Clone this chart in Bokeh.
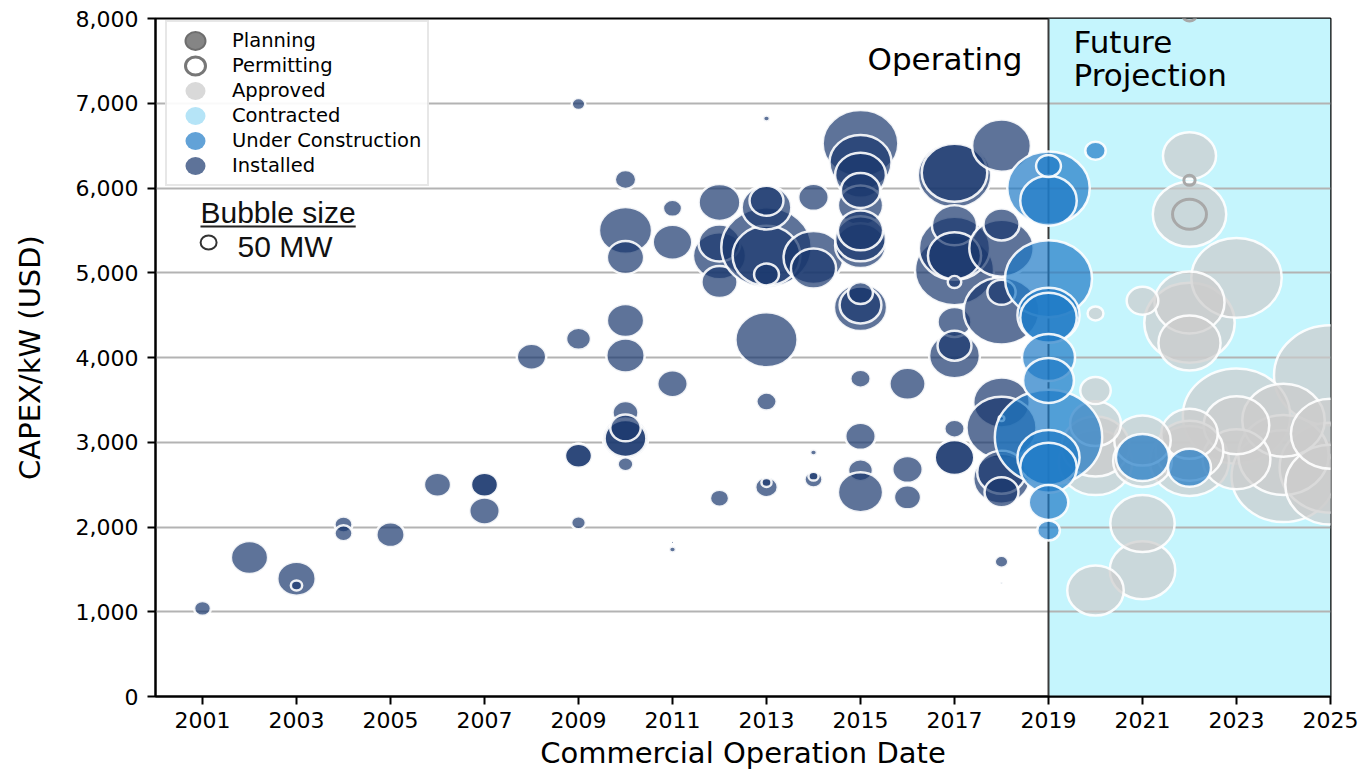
import math
from bokeh.plotting import figure
from bokeh.models import (ColumnDataSource, Legend, LegendItem, Label, Span,
                          FixedTicker, NumeralTickFormatter, Range1d, BoxAnnotation)
from bokeh.embed import file_html
from bokeh.resources import INLINE

# ---------------- data ----------------
status_labels = ["Planning", "Permitting", "Approved", "Contracted",
                 "Under Construction", "Installed"]
x_ticks = list(range(2001, 2026, 2))
y_ticks = list(range(0, 8001, 1000))
future_start = 2019
future_end = 2025
ref_mw = 50

installed_year = [2001, 2002, 2003, 2003, 2004, 2004, 2005, 2006, 2007, 2007, 2007, 2008,
                  2009, 2009, 2009, 2009, 2009,
                  2010, 2010, 2010, 2010, 2010, 2010, 2010, 2010, 2010, 2010,
                  2011, 2011, 2011, 2011, 2011,
                  2012, 2012, 2012, 2012, 2012,
                  2013, 2013, 2013, 2013, 2013, 2013, 2013, 2013, 2013, 2013,
                  2014, 2014, 2014, 2014, 2014, 2014,
                  2015, 2015, 2015, 2015, 2015, 2015, 2015, 2015, 2015, 2015, 2015,
                  2015, 2015, 2015, 2015,
                  2016, 2016, 2016,
                  2017, 2017, 2017, 2017, 2017, 2017, 2017, 2017, 2017, 2017, 2017,
                  2017, 2017,
                  2018, 2018, 2018, 2018, 2018, 2018, 2018, 2018, 2018, 2018, 2018,
                  2018, 2018]
installed_capex = [1040, 1640, 1390, 1310, 2030, 1925, 1910, 2500, 2190, 2500, 2500, 4010,
                   6990, 4220, 2840, 2840, 2050,
                   6100, 5500, 5180, 4437, 4024, 3350, 3045, 3045, 3170, 2740,
                   5760, 5360, 3690, 1735, 1820,
                   5830, 5200, 5350, 4890, 2340,
                   5300, 5200, 5770, 5850, 6820, 4980, 4210, 3480, 2470, 2525,
                   5890, 5180, 5050, 2880, 2560, 2600,
                   6525, 6300, 6150, 5795, 5970, 5320, 5400, 5500, 4590, 4620, 4760,
                   3750, 3070, 2670, 2410,
                   3690, 2680, 2350,
                   5030, 6150, 6180, 5290, 5560, 5200, 4890, 4020, 4420, 4140, 3160,
                   2820, 2820,
                   4550, 6500, 5290, 5570, 4770, 3470, 3170, 3280, 2570, 2645, 2410,
                   1590, 1340]
installed_mw = [56, 272, 289, 25, 64, 64, 156, 144, 182, 144, 144, 169,
                36, 121, 144, 144, 42,
                90, 552, 272, 272, 289, 132, 400, 342, 182, 49,
                72, 306, 182, 9, 0.25,
                342, 552, 342, 256, 72,
                1600, 900, 484, 225, 9, 121, 756, 81, 100, 20,
                182, 702, 400, 9, 64, 20,
                1122, 756, 506, 400, 306, 506, 506, 400, 552, 342, 121,
                81, 182, 121, 400,
                256, 182, 144,
                1225, 1056, 841, 992, 400, 552, 36, 506, 225, 225, 81,
                306, 306,
                1122, 676, 812, 256, 156, 625, 961, 6, 625, 462, 225,
                36, 1]

construction_year = [2019, 2019, 2019, 2019, 2019, 2019, 2019, 2019, 2019, 2019, 2019,
                     2019, 2019, 2020, 2021, 2022]
construction_capex = [3060, 6000, 4930, 2820, 4500, 2700, 5850, 4470, 4000, 3730, 2290,
                      6260, 1960, 6440, 2820, 2700]
construction_mw = [2256, 1332, 1482, 756, 756, 625, 625, 625, 552, 506, 306,
                   121, 100, 81, 552, 361]

approved_year = [2025, 2023, 2024, 2025, 2024, 2022, 2023, 2025, 2024, 2025, 2022,
                 2020, 2022, 2022, 2023, 2023, 2020, 2022, 2022, 2021, 2021, 2022,
                 2022, 2021, 2021, 2020, 2020, 2021, 2020, 2020]
approved_capex = [3790, 3310, 2600, 2700, 2850, 4410, 4940, 2500, 3260, 3100, 2780,
                  2760, 5690, 4650, 2800, 3200, 2950, 2900, 4170, 1490, 2040, 3100,
                  6380, 2780, 3020, 1250, 3220, 4670, 3610, 4520]
approved_mw = [2500, 2256, 2116, 2025, 1600, 1600, 1600, 1600, 1332, 1225, 1225,
               1056, 1056, 961, 900, 841, 900, 900, 756, 841, 812, 625,
               552, 676, 625, 625, 506, 196, 182, 49]

permitting_year = [2022, 2022, 2022]
permitting_capex = [8040, 6090, 5690]
permitting_mw = [36, 25, 225]


def bubble_source(years, capex, mw):
    h = [2.0 * math.sqrt(m) for m in mw]
    w = [1.13 * v for v in h]
    return ColumnDataSource(dict(x=years, y=capex, w=w, h=h))


# ---------------- figure ----------------
FONT = "DejaVu Sans"
p = figure(width=1366, height=776,
           x_range=Range1d(2000, 2025), y_range=Range1d(0, 8000),
           output_backend="svg", toolbar_location=None,
           min_border_left=155, min_border_right=36,
           min_border_top=18, min_border_bottom=80)
p.background_fill_color = "white"
p.border_fill_color = "white"
p.outline_line_color = "black"
p.outline_line_width = 2

# future projection region
p.add_layout(BoxAnnotation(left=future_start, right=future_end,
                           fill_color="#c5f5fd", fill_alpha=1.0,
                           line_color=None, level="image"))

# grid
p.xgrid.visible = False
p.ygrid.ticker = FixedTicker(ticks=y_ticks)
p.ygrid.grid_line_color = "#b3b3b3"
p.ygrid.grid_line_width = 2

# axes
p.xaxis.ticker = FixedTicker(ticks=x_ticks)
p.yaxis.ticker = FixedTicker(ticks=y_ticks)
p.yaxis.formatter = NumeralTickFormatter(format="0,0")
for ax in (p.xaxis[0], p.yaxis[0]):
    ax.axis_line_color = "black"
    ax.axis_line_width = 2
    ax.major_tick_line_color = "black"
    ax.major_tick_line_width = 2
    ax.major_tick_out = 8
    ax.major_tick_in = 0
    ax.minor_tick_line_color = None
    ax.major_label_text_font = FONT
    ax.major_label_text_font_size = "22px"
    ax.major_label_text_color = "black"
    ax.axis_label_text_font = FONT
    ax.axis_label_text_font_size = "29px"
    ax.axis_label_text_font_style = "normal"
    ax.axis_label_text_color = "black"
p.xaxis.axis_label = "Commercial Operation Date"
p.yaxis.axis_label = "CAPEX/kW (USD)"
p.xaxis.major_label_standoff = 7
p.yaxis.major_label_standoff = 9
p.xaxis.axis_label_standoff = 5
p.yaxis.axis_label_standoff = 26

# divider line
p.add_layout(Span(location=future_start, dimension="height",
                  line_color="#3a3a3a", line_width=2, level="underlay"))

# bubbles
common = dict(x="x", y="y", width="w", height="h",
              width_units="screen", height_units="screen",
              line_color="white", line_width=2.5, line_alpha=0.9)
p.ellipse(source=bubble_source(approved_year, approved_capex, approved_mw),
          fill_color="#cccccc", fill_alpha=0.7, **common)
p.ellipse(source=bubble_source(installed_year, installed_capex, installed_mw),
          fill_color="#19376d", fill_alpha=0.7, **common)
p.ellipse(source=bubble_source(construction_year, construction_capex, construction_mw),
          fill_color="#1f7ac6", fill_alpha=0.7, **common)
p.ellipse(source=bubble_source(permitting_year, permitting_capex, permitting_mw),
          x="x", y="y", width="w", height="h",
          width_units="screen", height_units="screen",
          fill_color=None, line_color="#a8a8a8", line_width=3)

# legend swatches: one off-canvas (NaN) ellipse per status, used only by the legend
sw_styles = [
    dict(fill_color="#858585", line_color="#6e6e6e", line_width=2),
    dict(fill_color="white", line_color="#777777", line_width=3),
    dict(fill_color="#d9d9d9", line_color=None),
    dict(fill_color="#b5e4f7", line_color=None),
    dict(fill_color="#62a2d7", line_color=None),
    dict(fill_color="#5e7399", line_color=None),
]
items = []
for lab, st in zip(status_labels, sw_styles):
    src = ColumnDataSource(dict(x=[float("nan")], y=[float("nan")], w=[20.0], h=[18.0]))
    r = p.ellipse(x="x", y="y", width="w", height="h",
                  width_units="screen", height_units="screen", source=src, **st)
    items.append(LegendItem(label=lab, renderers=[r]))
legend = Legend(items=items, location=(10, 510),
                glyph_width=44, glyph_height=25, spacing=0, padding=6,
                label_standoff=15, label_text_font=FONT, label_text_font_size="19.5px",
                label_text_color="black", label_height=20,
                border_line_color="#d0d0d0", border_line_width=2,
                background_fill_color="white", background_fill_alpha=0.92)
p.add_layout(legend)

# bubble size key
p.add_layout(Label(x=2000.957, y=5711, text="Bubble size", text_baseline="middle",
                   text_font="Liberation Sans", text_font_size="30px", text_color="#111111"))
p.segment(x0=[2000.957], y0=[5545], x1=[2004.26], y1=[5545], line_color="#222222", line_width=2)
ref_src = bubble_source([2001.13], [5357], [ref_mw])
p.ellipse(source=ref_src, x="x", y="y", width="w", height="h",
          width_units="screen", height_units="screen",
          fill_color="white", line_color="#333333", line_width=2)
p.add_layout(Label(x=2001.745, y=5310, text="50 MW", text_baseline="middle",
                   text_font="Liberation Sans", text_font_size="30px", text_color="#111111"))

# region labels
p.add_layout(Label(x=future_start, y=7528, x_offset=-26, text="Operating",
                   text_align="right", text_baseline="middle",
                   text_font=FONT, text_font_size="31px", text_color="black"))
p.add_layout(Label(x=future_start, y=7717, x_offset=25, text="Future",
                   text_align="left", text_baseline="middle",
                   text_font=FONT, text_font_size="31px", text_color="black"))
p.add_layout(Label(x=future_start, y=7328, x_offset=25, text="Projection",
                   text_align="left", text_baseline="middle",
                   text_font=FONT, text_font_size="31px", text_color="black"))

open("out.html", "w").write(file_html(p, INLINE))
